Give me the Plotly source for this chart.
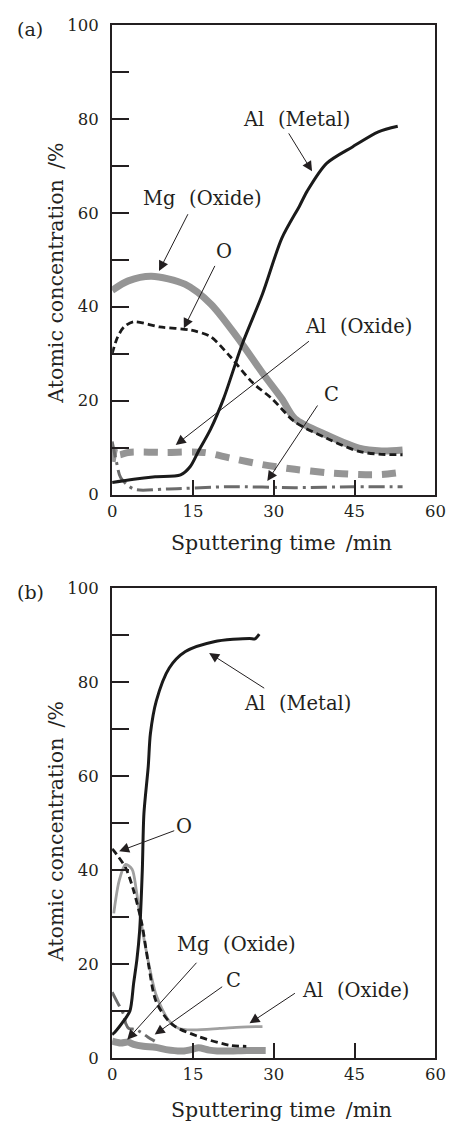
import plotly.graph_objects as go

FONT = "DejaVu Serif"
INK = "#231f20"

# ---------------- Panel (a) data ----------------
a_al_metal_x = [0, 4, 8, 12.7, 14.5, 16, 18.3, 20.7, 24, 27.9, 31.5, 34.8, 36.2, 39.8, 44.6, 49.4, 53]
a_al_metal_y = [2.6, 3.3, 3.8, 4.2, 6.0, 9.2, 14, 20.5, 31.6, 42.7, 54.6, 61.5, 64.6, 70.5, 74, 77.2, 78.4]

a_mg_ox_x = [0, 3, 7.3, 13.5, 18.3, 23.1, 27.9, 31.5, 33.9, 39.8, 45.8, 50, 53.9]
a_mg_ox_y = [43.5, 45.5, 46.5, 44.8, 40.6, 33.7, 25.9, 20.4, 16.2, 12.7, 9.9, 9.3, 9.5]

a_o_x = [0, 1, 2.2, 4, 8.8, 14.7, 18.3, 21.9, 26.1, 29.7, 33.9, 39.8, 45.8, 50, 53.9]
a_o_y = [30, 33.5, 35.7, 36.8, 35.7, 35, 33.6, 29.4, 23.8, 20.4, 15.5, 12, 9.2, 8.6, 8.5]

a_al_ox_x = [0, 0.6, 1.2, 3, 10, 17, 21.9, 27.9, 33.9, 39.8, 45.8, 50, 53.9]
a_al_ox_y = [7, 10, 8.5, 9, 9, 9, 7.8, 6.4, 5.4, 4.7, 4.3, 4.3, 4.8]

a_c_x = [0, 0.8, 1.6, 4, 10, 21.9, 33.9, 45, 53.9]
a_c_y = [11.3, 7, 3.6, 1.2, 1.2, 1.7, 1.5, 1.7, 1.7]

# ---------------- Panel (b) data ----------------
b_al_metal_x = [0, 0.5, 2.2, 3.3, 4, 4.6, 5.1, 5.6, 5.9, 6.7, 7.1, 8.2, 10.6, 13.6, 18.9, 25.5, 26.5, 27.3]
b_al_metal_y = [5, 5.5, 8, 10, 16, 21, 27, 40, 52, 62, 69, 76, 83, 86.5, 88.6, 89.3, 89.2, 90.2]

b_o_x = [0, 0.4, 2.5, 4, 5.5, 6.7, 8.2, 11.2, 16, 21.9, 24.9]
b_o_y = [44.5, 44, 40.5, 35.6, 28.7, 20.3, 11.9, 7.1, 4.6, 2.7, 2.5]

b_al_ox_x = [0.3, 1.3, 2.5, 3.7, 4.5, 5.1, 6.4, 8.2, 10.5, 12.4, 15, 20, 24, 27.9]
b_al_ox_y = [30.8, 37.7, 41.2, 40.2, 35.6, 30.8, 22.4, 13.3, 8, 6.3, 6.0, 6.3, 6.6, 6.7]

b_mg_ox_x = [0, 1.6, 3, 4, 5.8, 8, 10, 13, 15, 16, 18, 19.5, 21.9, 25, 28.5]
b_mg_ox_y = [3.6, 3.2, 3.4, 2.9, 2.5, 2.3, 1.8, 1.5, 1.9, 2.2, 1.7, 1.5, 1.5, 1.6, 1.6]

b_c_x = [0, 1, 2.2, 2.5, 3.1, 4.3, 5.2, 6.6, 7.9]
b_c_y = [14, 11.8, 9.1, 7.4, 6.3, 6.1, 5.6, 4.5, 3.6]

# ---------------- Axis ticks ----------------
y_tickvals = [0, 10, 20, 30, 40, 50, 60, 70, 80, 90, 100]
y_ticktext = ["0", "", "20", "", "40", "", "60", "", "80", "", "100"]
x_tickvals = [0, 15, 30, 45, 60]
x_ticktext = ["0", "15", "30", "45", "60"]

GAP = "\u2002\u2009"
# ---------------- Labels (text, x, y) ----------------
a_labels = [
    ("Al" + GAP + "(Metal)", 34.3, 79.9),
    ("Mg" + GAP + "(Oxide)", 16.8, 63.0),
    ("O", 20.7, 51.7),
    ("Al" + GAP + "(Oxide)", 45.8, 35.7),
    ("C", 40.7, 21.4),
]
# arrows: head x, head y, tail x, tail y
a_arrows = [
    (37.1, 68.8, 32.6, 77.2),
    (8.7, 47.6, 14.2, 60.0),
    (13.3, 35.4, 19.2, 49.0),
    (11.8, 10.6, 36.8, 32.9),
    (28.8, 2.9, 38.3, 19.3),
]
b_labels = [
    ("Al" + GAP + "(Metal)", 34.4, 75.4),
    ("O", 13.3, 49.2),
    ("Mg" + GAP + "(Oxide)", 23.1, 24.1),
    ("C", 22.6, 16.5),
    ("Al" + GAP + "(Oxide)", 45.2, 14.4),
]
b_arrows = [
    (18.0, 86.2, 28.5, 78.5),
    (1.3, 44.0, 11.8, 48.5),
    (2.8, 3.9, 15.9, 20.6),
    (7.9, 5.0, 20.7, 15.4),
    (25.5, 7.4, 34.2, 14.0),
]

W, H = 459, 1131


def px_x(p):
    return p / W


def px_y(p):
    return 1 - p / H


fig = go.Figure()


def add_line(x, y, xa, ya, color, width, dash="solid"):
    fig.add_trace(go.Scatter(x=x, y=y, xaxis=xa, yaxis=ya, mode="lines",
                             line=dict(color=color, width=width, dash=dash, shape="spline", smoothing=0.8),
                             showlegend=False, hoverinfo="skip"))


GREY = "#959595"
DGREY = "#6b6b6b"
# panel a (x, y)
add_line(a_al_ox_x, a_al_ox_y, "x", "y", GREY, 7, "14px,10px")
add_line(a_c_x, a_c_y, "x", "y", DGREY, 3, "16px,5px,3px,5px")
add_line(a_mg_ox_x, a_mg_ox_y, "x", "y", GREY, 7)
add_line(a_o_x, a_o_y, "x", "y", "#1a1a1a", 2.8, "7px,4px")
add_line(a_al_metal_x, a_al_metal_y, "x", "y", "#1a1a1a", 3)

# panel b (x2, y2)
add_line(b_mg_ox_x, b_mg_ox_y, "x2", "y2", GREY, 7)
add_line(b_al_ox_x, b_al_ox_y, "x2", "y2", "#a0a0a0", 2.8)
add_line(b_c_x, b_c_y, "x2", "y2", DGREY, 3, "16px,5px,3px,5px")
add_line(b_o_x, b_o_y, "x2", "y2", "#1a1a1a", 2.8, "7px,4px")
add_line(b_al_metal_x, b_al_metal_y, "x2", "y2", "#1a1a1a", 3)

xdom = [px_x(111), px_x(446)]
ydom_a = [px_y(494), px_y(16)]
ydom_b = [px_y(1067), px_y(589)]

xcommon = dict(range=[0, 60], showgrid=False, zeroline=False, showline=True, linecolor=INK,
               linewidth=2, mirror=True, ticks="inside", ticklen=15, tickwidth=2, tickcolor=INK,
               tickvals=x_tickvals, ticktext=x_ticktext, tickfont=dict(family=FONT, size=16.5, color=INK),
               fixedrange=True, domain=xdom)
ycommon = dict(range=[0, 100], showgrid=False, zeroline=False, showline=True, linecolor=INK,
               linewidth=2, mirror=True, ticks="inside", ticklen=17, tickwidth=2, tickcolor=INK,
               tickvals=y_tickvals, ticktext=y_ticktext, tickfont=dict(family=FONT, size=16.5, color=INK),
               ticklabelstandoff=8, fixedrange=True)

fig.update_layout(
    width=W, height=H, margin=dict(l=0, r=0, t=0, b=0),
    paper_bgcolor="white", plot_bgcolor="white",
    xaxis=dict(**xcommon, anchor="y"),
    yaxis=dict(**ycommon, domain=ydom_a, anchor="x"),
    xaxis2=dict(**xcommon, anchor="y2"),
    yaxis2=dict(**ycommon, domain=ydom_b, anchor="x2"),
)

ann = []
for (xr, yr, labels, arrows) in (("x", "y", a_labels, a_arrows), ("x2", "y2", b_labels, b_arrows)):
    for t, x, y in labels:
        ann.append(dict(text=t, x=x, y=y, xref=xr, yref=yr, showarrow=False,
                        xanchor="center", yanchor="middle",
                        font=dict(family=FONT, size=19.5, color=INK)))
    for hx, hy, tx, ty in arrows:
        ann.append(dict(text="", x=hx, y=hy, xref=xr, yref=yr, ax=tx, ay=ty, axref=xr, ayref=yr,
                        showarrow=True, arrowhead=2, arrowsize=2, arrowwidth=1, arrowcolor=INK,
                        standoff=0, startstandoff=0))

# panel tags and axis titles
for tag, ypx in (("(a)", 20), ("(b)", 593)):
    ann.append(dict(text=tag, x=px_x(26), y=px_y(ypx), xref="paper", yref="paper", showarrow=False,
                    xanchor="center", yanchor="middle",
                    font=dict(family=FONT, size=19, color=INK)))
for ypx in (543, 1120):
    ann.append(dict(text="Sputtering time\u2002/min", x=px_x(287), y=px_y(ypx), xref="paper", yref="paper",
                    showarrow=False, xanchor="center", yanchor="middle",
                    font=dict(family=FONT, size=20.5, color=INK)))
for ypx in (269, 837):
    ann.append(dict(text="Atomic concentration\u2002/%", x=px_x(53), y=px_y(ypx), xref="paper", yref="paper",
                    showarrow=False, textangle=-90, xanchor="center", yanchor="middle",
                    font=dict(family=FONT, size=20.5, color=INK)))
fig.update_layout(annotations=ann)

# remove the browser's default page margin so the figure sits at the window origin
fig.write_html("out.html", config={"displayModeBar": False},
               post_script="document.body.style.margin='0';")
